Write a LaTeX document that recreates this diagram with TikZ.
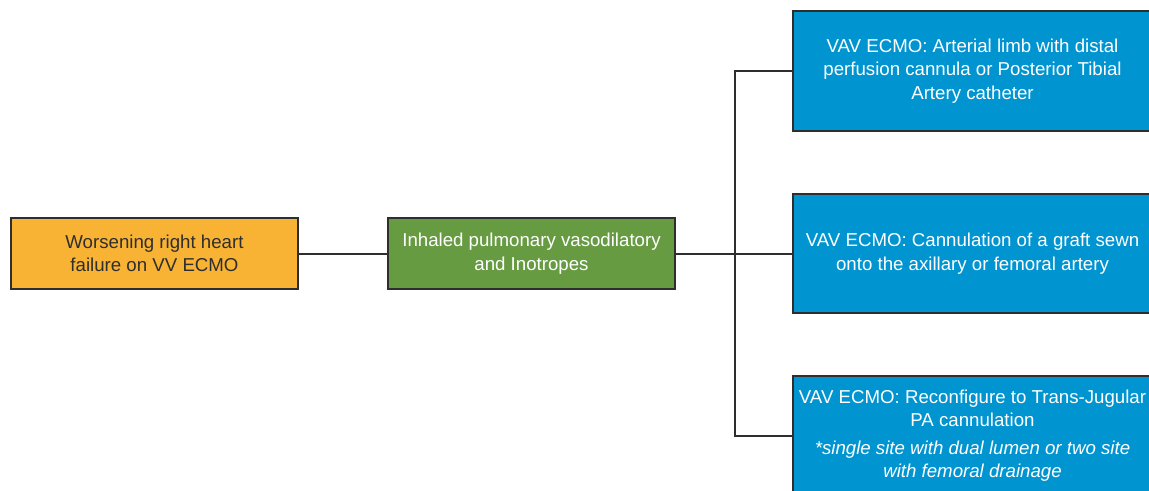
\documentclass[tikz,border=0pt]{standalone}
\usepackage{fontspec}
\setmainfont{Liberation Sans}
\definecolor{boxorange}{HTML}{F8B334}
\definecolor{boxgreen}{HTML}{669B42}
\definecolor{boxblue}{HTML}{0094D0}
\definecolor{edgegray}{HTML}{2E2E2E}
\begin{document}
\begin{tikzpicture}[x=0.75pt,y=-0.75pt,
  box/.style={draw=edgegray,line width=1.5pt,rectangle,inner sep=0pt,align=center,
    font=\fontsize{14pt}{17.5pt}\selectfont},
  smallbox/.style={box,minimum width=215pt,minimum height=53pt},
  bluebox/.style={box,fill=boxblue,text=white,minimum width=269pt,minimum height=89.5pt},
  conn/.style={draw=edgegray,line width=1.5pt}]
\useasboundingbox (0,0) rectangle (1149,490);
\node[smallbox,fill=boxorange,text=edgegray] (a) at (154.5,253.5) {Worsening right heart\\failure on VV ECMO};
\node[smallbox,fill=boxgreen,text=white] (b) at (531.5,253.5) {Inhaled pulmonary vasodilatory\\and Inotropes};
\node[bluebox] (c1) at (972.5,71) {VAV ECMO: Arterial limb with distal\\perfusion cannula or Posterior Tibial\\Artery catheter};
\node[bluebox] (c2) at (972.5,253.5) {VAV ECMO: Cannulation of a graft sewn\\onto the axillary or femoral artery};
\node[bluebox] (c3) at (972.5,435.5) {VAV ECMO: Reconfigure to Trans-Jugular\\PA cannulation\\[3pt]\itshape *single site with dual lumen or two site\\\itshape with femoral drainage};
\coordinate (j) at (735,253.5);
\draw[conn] (a.east) -- (b.west);
\draw[conn] (b.east) -- (c2.west);
\draw[conn] (c1.west) -| (j) |- (c3.west);
\end{tikzpicture}
\end{document}
